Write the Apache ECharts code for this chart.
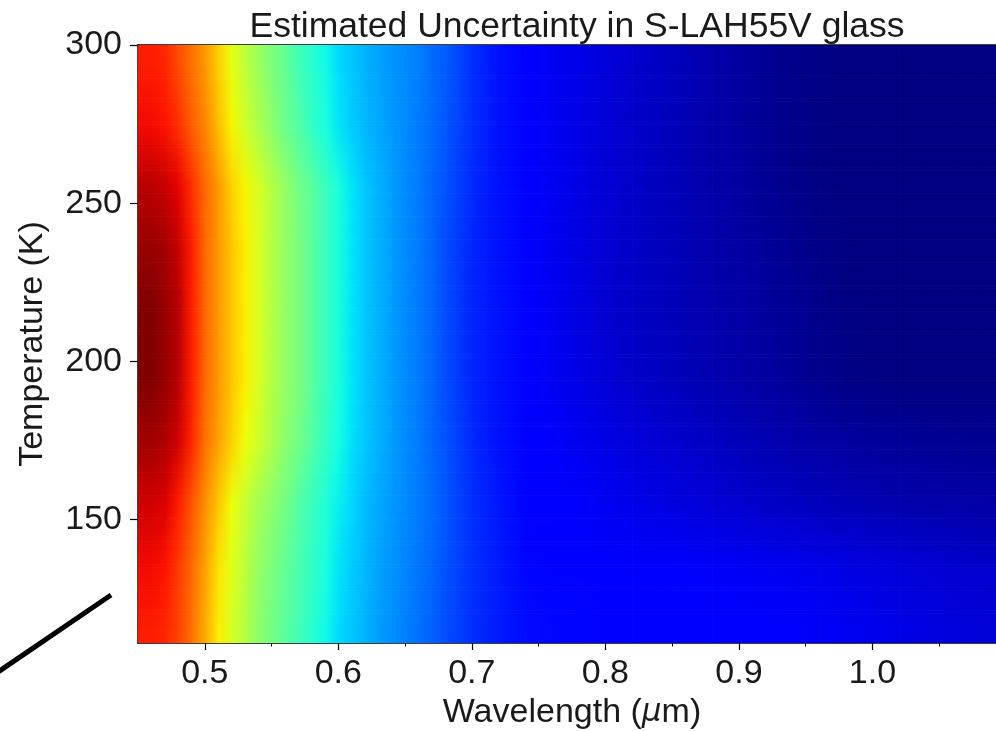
<!DOCTYPE html>
<html>
<head>
<meta charset="utf-8">
<script src="https://cdn.jsdelivr.net/npm/echarts@6/dist/echarts.min.js"></script>
<style>html,body{margin:0;padding:0;background:#fff;}#c{width:996px;height:731px;}</style>
</head>
<body>
<div id="c"></div>
<script>
// ---- data ----
const wavelengths = [0.45,0.46,0.47,0.48,0.49,0.50,0.51,0.52,0.53,0.54,0.55,0.56,0.57,0.58,0.59,0.60,0.61,0.62,0.63,0.64,0.65,0.66,0.67,0.68,0.69,0.70,
  0.72,0.74,0.76,0.78,0.80,0.82,0.84,0.86,0.88,0.90,0.92,0.94,0.96,0.98,1.00,1.02,1.04,1.06,1.08,1.10];
const temperatures = [115,135,155,175,195,215,235,255,275,295];
const uncertainty = [
  // T=115
  [0.88,0.88,0.87,0.84,0.79,0.73,0.66,0.61,0.57,0.52,0.49,0.46,0.43,0.40,0.37,0.34,0.32,0.30,0.28,0.265,0.25,0.235,0.22,0.20,0.185,0.17,
   0.15,0.135,0.13,0.128,0.125,0.122,0.12,0.118,0.116,0.114,0.112,0.11,0.105,0.10,0.095,0.09,0.085,0.08,0.078,0.075],
  // T=135
  [0.90,0.90,0.89,0.85,0.80,0.74,0.67,0.62,0.58,0.53,0.50,0.47,0.44,0.41,0.38,0.35,0.325,0.305,0.285,0.27,0.255,0.24,0.225,0.205,0.19,0.17,
   0.15,0.128,0.122,0.118,0.115,0.112,0.11,0.108,0.106,0.103,0.1,0.096,0.092,0.087,0.082,0.078,0.074,0.07,0.067,0.065],
  // T=155
  [0.93,0.93,0.92,0.88,0.82,0.76,0.70,0.64,0.59,0.55,0.52,0.49,0.45,0.42,0.39,0.36,0.335,0.31,0.29,0.275,0.26,0.245,0.23,0.21,0.19,0.17,
   0.145,0.125,0.115,0.108,0.10,0.093,0.087,0.081,0.075,0.069,0.063,0.058,0.053,0.048,0.044,0.04,0.037,0.035,0.033,0.032],
  // T=175
  [0.97,0.97,0.96,0.93,0.87,0.79,0.74,0.69,0.64,0.60,0.56,0.52,0.49,0.45,0.41,0.375,0.345,0.32,0.30,0.28,0.26,0.245,0.225,0.205,0.185,0.165,
   0.14,0.12,0.108,0.098,0.088,0.08,0.072,0.065,0.058,0.05,0.044,0.038,0.032,0.027,0.023,0.02,0.018,0.016,0.015,0.015],
  // T=195
  [1.0,1.0,0.98,0.95,0.88,0.80,0.75,0.70,0.66,0.61,0.57,0.53,0.50,0.46,0.42,0.38,0.35,0.32,0.30,0.28,0.26,0.245,0.225,0.20,0.18,0.16,
   0.14,0.115,0.10,0.088,0.075,0.065,0.057,0.048,0.042,0.035,0.027,0.02,0.012,0.005,0.002,0,0,0,0,0],
  // T=215
  [1.0,1.0,0.98,0.95,0.88,0.80,0.75,0.70,0.66,0.61,0.57,0.53,0.50,0.46,0.42,0.38,0.35,0.32,0.30,0.28,0.26,0.245,0.225,0.20,0.18,0.16,
   0.14,0.115,0.10,0.085,0.07,0.06,0.055,0.045,0.04,0.033,0.025,0.018,0.01,0.003,0,0,0,0,0,0],
  // T=235
  [0.98,0.98,0.97,0.94,0.88,0.80,0.75,0.70,0.66,0.61,0.57,0.53,0.50,0.46,0.42,0.38,0.35,0.32,0.30,0.28,0.26,0.245,0.225,0.20,0.18,0.16,
   0.14,0.113,0.098,0.085,0.072,0.062,0.054,0.045,0.038,0.030,0.022,0.014,0.007,0.002,0,0,0,0,0,0],
  // T=255
  [0.95,0.95,0.94,0.91,0.86,0.80,0.75,0.69,0.65,0.61,0.57,0.53,0.49,0.46,0.42,0.38,0.35,0.32,0.30,0.28,0.26,0.245,0.225,0.205,0.185,0.165,
   0.14,0.115,0.10,0.087,0.074,0.064,0.055,0.045,0.036,0.027,0.018,0.01,0.004,0,0,0,0,0,0,0],
  // T=275
  [0.90,0.90,0.89,0.86,0.81,0.77,0.71,0.65,0.60,0.56,0.52,0.48,0.45,0.41,0.38,0.35,0.325,0.305,0.29,0.275,0.26,0.245,0.23,0.21,0.19,0.17,
   0.14,0.115,0.10,0.088,0.076,0.066,0.056,0.046,0.036,0.026,0.017,0.01,0.004,0,0,0,0,0,0,0],
  // T=295
  [0.88,0.88,0.87,0.83,0.79,0.75,0.69,0.63,0.58,0.54,0.50,0.47,0.43,0.40,0.37,0.34,0.32,0.30,0.285,0.27,0.26,0.25,0.23,0.215,0.195,0.17,
   0.14,0.115,0.10,0.09,0.078,0.068,0.058,0.048,0.038,0.027,0.018,0.01,0.005,0,0,0,0,0,0,0]
];
const xTickLabels = [0.5,0.6,0.7,0.8,0.9,1.0];
const xMinorTicks = [0.55,0.65,0.75,0.85,0.95,1.05];
const yTickLabels = [150,200,250,300];

// ---- jet colormap (matplotlib segment definition) ----
function seg(pts, v){
  if (v <= pts[0][0]) return pts[0][1];
  for (let k=1;k<pts.length;k++){
    if (v <= pts[k][0]) {
      const [a0,b0] = pts[k-1], [a1,b1] = pts[k];
      return b0 + (b1-b0)*(v-a0)/(a1-a0);
    }
  }
  return pts[pts.length-1][1];
}
const jetR = [[0,0],[0.35,0],[0.66,1],[0.89,1],[1,0.5]];
const jetG = [[0,0],[0.125,0],[0.375,1],[0.64,1],[0.91,0],[1,0]];
const jetB = [[0,0.5],[0.11,1],[0.34,1],[0.65,0],[1,0]];
function jetRGB(v){ return [seg(jetR,v),seg(jetG,v),seg(jetB,v)].map(x=>x*255); }
function mix(a,b,f){ return [0,1,2].map(k=>a[k]+(b[k]-a[k])*f); }
function css(c){ return 'rgb('+c.map(x=>Math.round(x)).join(',')+')'; }

const X_MIN = 0.45, X_MAX = 1.10, Y_MIN = 111, Y_MAX = 300;

// one data item per sample point
const cells = [];
temperatures.forEach((t,i)=>{
  wavelengths.forEach((w,j)=>{
    cells.push([w, t, uncertainty[i][j], i, j]);
  });
});

const FONT = "'Liberation Sans', Arial, sans-serif";
const TXT = '#1a1a1a';
const chart = echarts.init(document.getElementById('c'), null, {renderer:'canvas'});
chart.setOption({
  animation:false,
  backgroundColor:'#fff',
  title:{
    text:'Estimated Uncertainty in S-LAH55V glass',
    left:572, top:4, textAlign:'center',
    textStyle:{fontFamily:FONT, fontSize:35.5, fontWeight:'normal', color:TXT}
  },
  grid:{left:138, top:45, right:-10, bottom:88, containLabel:false, outerBoundsMode:'none'},
  xAxis:[
    {type:'value', min:X_MIN, max:X_MAX, position:'bottom',
     axisLine:{show:true, lineStyle:{color:'#000', width:1.5}},
     axisTick:{show:true, customValues:xTickLabels, length:7, lineStyle:{color:'#000', width:1.2}},
     axisLabel:{customValues:xTickLabels, formatter:v=>v.toFixed(1), fontFamily:FONT, fontSize:34, color:TXT, margin:14},
     splitLine:{show:false},
     name:'Wavelength ({it|μ}m)', nameLocation:'middle', nameGap:53,
     nameTextStyle:{fontFamily:FONT, fontSize:34, color:TXT, rich:{it:{fontFamily:"'DejaVu Sans'", fontStyle:'italic', fontSize:31, color:TXT}}}
    },
    {type:'value', min:X_MIN, max:X_MAX, position:'bottom',
     axisLine:{show:false},
     axisTick:{show:true, customValues:xMinorTicks, length:3.5, lineStyle:{color:'#000', width:1}},
     axisLabel:{show:false}, splitLine:{show:false}},
    {type:'value', min:X_MIN, max:X_MAX, position:'top',
     axisLine:{show:true, lineStyle:{color:'#000', width:1.5}},
     axisTick:{show:false}, axisLabel:{show:false}, splitLine:{show:false}}
  ],
  yAxis:{type:'value', min:Y_MIN, max:Y_MAX,
     axisLine:{show:true, lineStyle:{color:'#000', width:1.5}},
     axisTick:{show:true, customValues:yTickLabels, length:8, lineStyle:{color:'#000', width:1.2}},
     axisLabel:{customValues:yTickLabels, fontFamily:FONT, fontSize:34, color:TXT, margin:16},
     splitLine:{show:false},
     name:'Temperature (K)', nameLocation:'middle', nameGap:88, nameRotate:90,
     nameTextStyle:{fontFamily:FONT, fontSize:34, color:TXT}
  },
  graphic:[{type:'line', shape:{x1:-2, y1:672, x2:111, y2:595}, style:{stroke:'#000', lineWidth:5}, z:100}],
  series:[{
    type:'custom',
    xAxisIndex:0, yAxisIndex:0,
    encode:{x:0, y:1},
    data:cells,
    z:1,
    renderItem:function(params, api){
      const i = api.value(3), j = api.value(4);
      const nW = wavelengths.length, nT = temperatures.length;
      if (j >= nW-1) return null;
      const xa = api.coord([wavelengths[j], temperatures[i]])[0];
      const xb = api.coord([wavelengths[j+1], temperatures[i]])[0];
      const children = [];
      const strip = (yTop, yBot, cl, cr) => {
        children.push({type:'rect',
          shape:{x:xa, y:yTop, width:xb-xa+0.7, height:yBot-yTop+0.7},
          style:{fill:{type:'linear', x:0, y:0, x2:1, y2:0,
            colorStops:[{offset:0, color:css(cl)}, {offset:1, color:css(cr)}]}}});
      };
      const yRow = api.coord([wavelengths[j], temperatures[i]])[1];
      const a0 = jetRGB(uncertainty[i][j]), a1 = jetRGB(uncertainty[i][j+1]);
      if (i < nT-1) {
        const yNext = api.coord([wavelengths[j], temperatures[i+1]])[1];
        const b0 = jetRGB(uncertainty[i+1][j]), b1 = jetRGB(uncertainty[i+1][j+1]);
        const K = Math.max(1, Math.ceil((yRow-yNext)/3));
        for (let k=0;k<K;k++){
          const f = (k+0.5)/K;
          const yBot = yRow - (yRow-yNext)*k/K;
          const yTop = yRow - (yRow-yNext)*(k+1)/K;
          strip(yTop, yBot, mix(a0,b0,f), mix(a1,b1,f));
        }
      }
      if (i === 0) {
        const yMin = api.coord([wavelengths[j], Y_MIN])[1];
        strip(yRow, yMin-0.7, a0, a1);
      }
      if (i === nT-1) {
        const yMax = api.coord([wavelengths[j], Y_MAX])[1];
        strip(yMax, yRow, a0, a1);
      }
      return {type:'group', children};
    }
  }]
});
</script>
</body>
</html>
